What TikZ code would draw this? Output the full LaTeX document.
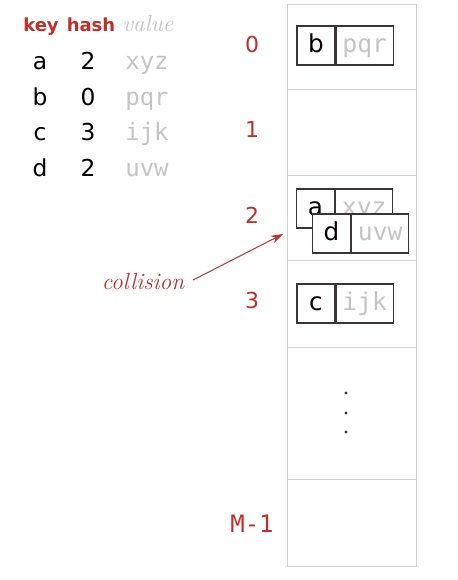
\documentclass[tikz,border=0pt]{standalone}
\usepackage{fontspec}
\setsansfont{DejaVu Sans}
\setmonofont{DejaVu Sans Mono}
\usetikzlibrary{arrows.meta,positioning}

\definecolor{bookred}{RGB}{196,45,40}
\definecolor{valgray}{RGB}{196,196,196}
\definecolor{slotgray}{RGB}{208,208,208}
\definecolor{boxline}{RGB}{60,52,52}

\tikzset{
	keycell/.style={draw=boxline, fill=white, line width=0.9pt, minimum width=28.5pt, minimum height=29.25pt, inner sep=0pt, text height=12pt, text depth=1.5pt, font=\sffamily\fontsize{18.5}{20}\selectfont, text=black},
	valcell/.style={draw=boxline, fill=white, line width=0.9pt, minimum width=42.75pt, minimum height=29.25pt, inner sep=0pt, text height=12pt, text depth=1.5pt, font=\ttfamily\fontsize{18.5}{20}\selectfont, text=valgray},
	slotnum/.style={anchor=base, text=bookred, font=\sffamily\fontsize{16.5}{18}\selectfont},
	headtxt/.style={anchor=base, text=bookred, font=\sffamily\bfseries\fontsize{13.5}{18}\selectfont},
	rowtxt/.style={anchor=base, text=black, font=\sffamily\fontsize{17.5}{20}\selectfont},
	rowval/.style={anchor=base, text=valgray, font=\ttfamily\fontsize{18}{20}\selectfont},
	slotline/.style={draw=slotgray, line width=0.75pt}}
\tikzset{every picture/.style={line width=0.75pt}}

\begin{document}
\begin{tikzpicture}[x=0.75pt,y=0.75pt,yscale=-1,xscale=1]
	\useasboundingbox (0,0) rectangle (457,580);

	% key / hash / value table
	\node[headtxt] (hkey) at (41,32) {key};
	\node[headtxt] (hhash) at (91,32) {hash};
	\node[anchor=base, text=valgray, font=\itshape\fontsize{17.5}{20}\selectfont] (hval) at (148,32) {value};
	% Text Node
	\node[rowtxt] (ka) at (40,70) {a};
	\node[rowtxt] (ha) at (88,70) {2};
	\node[rowval] (va) at (147,70) {xyz};
	% Text Node
	\node[rowtxt] (kb) at (40,105.5) {b};
	\node[rowtxt] (hb) at (88,105.5) {0};
	\node[rowval] (vb) at (147,105.5) {pqr};
	% Text Node
	\node[rowtxt] (kc) at (40,141) {c};
	\node[rowtxt] (hc) at (88,141) {3};
	\node[rowval] (vc) at (147,141) {ijk};
	% Text Node
	\node[rowtxt] (kd) at (40,177) {d};
	\node[rowtxt] (hd) at (88,177) {2};
	\node[rowval] (vd) at (147,177) {uvw};

	% array of slots
	\draw[slotline] (287,5) rectangle (416,566);
	\draw[slotline] (287,90) -- (416,90);
	\draw[slotline] (287,176) -- (416,176);
	\draw[slotline] (287,261) -- (416,261);
	\draw[slotline] (287,347) -- (416,347);
	\draw[slotline] (287,479) -- (416,479);

	% slot indices
	\node[slotnum] (s0) at (252,53) {0};
	\node[slotnum] (s1) at (252,138) {1};
	\node[slotnum] (s2) at (252,224) {2};
	\node[slotnum] (s3) at (252,308) {3};
	\node[slotnum, font=\ttfamily\fontsize{18}{20}\selectfont] (sM) at (252,532) {M-1};

	% entries
	\node[keycell] (eb) at (316,45.5) {b};
	\node[valcell, right=0pt of eb] (ebv) {pqr};
	\node[keycell] (ea) at (315.5,208.5) {a};
	\node[valcell, right=0pt of ea] (eav) {xyz};
	\node[keycell] (ed) at (331.5,233.5) {d};
	\node[valcell, right=0pt of ed] (edv) {uvw};
	\node[keycell] (ec) at (316,303.5) {c};
	\node[valcell, right=0pt of ec] (ecv) {ijk};

	% dots
	\fill[boxline] (346,393) circle (1.6);
	\fill[boxline] (346,413) circle (1.6);
	\fill[boxline] (346,432) circle (1.6);

	% collision arrow
	\node[text=bookred, font=\itshape\fontsize{17.5}{20}\selectfont] (coll) at (143,282) {collision};
	\coordinate (tip) at (283,234);
	\draw[bookred, -{Stealth[length=9pt,width=6pt]}] (coll.east) ++(4,-2) -- (tip);

\end{tikzpicture}
\end{document}
